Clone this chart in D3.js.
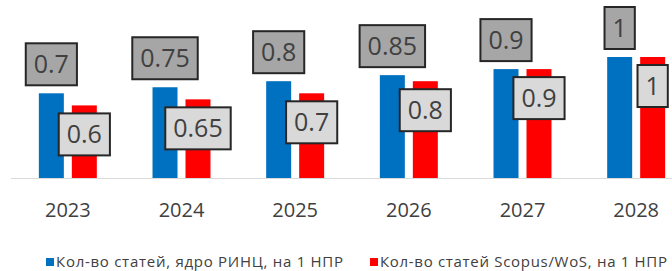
<!DOCTYPE html>
<html>
<head>
<meta charset="utf-8">
<script src="https://cdn.jsdelivr.net/npm/d3@7"></script>
<style>
  body { margin: 0; background: #fff; }
  svg { display: block; }
</style>
</head>
<body>
<svg width="672" height="271"></svg>
<script>
const years = ['2023', '2024', '2025', '2026', '2027', '2028'];
const series = ['rinc', 'scopus'];
const rincValues = [0.7, 0.75, 0.8, 0.85, 0.9, 1];
const scopusValues = [0.6, 0.65, 0.7, 0.8, 0.9, 1];
const legendLabels = ['Кол-во статей, ядро РИНЦ, на 1 НПР', 'Кол-во статей Scopus/WoS, на 1 НПР'];

const colors = { rinc: '#0070c0', scopus: '#ff0000' };
const boxFill = { rinc: '#a6a6a6', scopus: '#d9d9d9' };

const svg = d3.select('svg');
const baseY = 178;

const x = d3.scaleBand()
  .domain(years)
  .range([11, 693])
  .paddingInner(0.49)
  .paddingOuter(0.245);

const xs = d3.scaleBand()
  .domain(series)
  .range([0, x.bandwidth()])
  .paddingInner(0.2424);

const y = d3.scaleLinear()
  .domain([0, 1])
  .range([baseY, baseY - 121]);

let data = [];
for (let i = 0; i < years.length; i++) {
  data.push({ year: years[i], key: 'rinc', value: rincValues[i] });
  data.push({ year: years[i], key: 'scopus', value: scopusValues[i] });
}

// axis line
svg.append('line')
  .attr('x1', 11).attr('x2', 672)
  .attr('y1', baseY + 0.5).attr('y2', baseY + 0.5)
  .attr('stroke', '#d9d9d9')
  .attr('stroke-width', 1);

svg.selectAll('rect.bar')
  .data(data)
  .enter()
  .append('rect')
  .attr('class', 'bar')
  .attr('x', d => x(d.year) + xs(d.key))
  .attr('width', xs.bandwidth())
  .attr('y', d => y(d.value))
  .attr('height', d => baseY - y(d.value))
  .attr('fill', d => colors[d.key]);

// data labels in boxes
const fmt = v => String(v);
const labelFont = 25;
const boxH = 42;

const labels = svg.selectAll('g.lbl')
  .data(data)
  .enter()
  .append('g')
  .attr('class', 'lbl');

labels.each(function (d) {
  const g = d3.select(this);
  const cx = x(d.year) + xs(d.key) + xs.bandwidth() / 2;
  const top = d.key === 'rinc' ? y(d.value) - 8 - boxH : y(d.value) + 8;
  const t = g.append('text')
    .attr('x', cx)
    .attr('y', top + boxH / 2 + labelFont * 0.36)
    .attr('text-anchor', 'middle')
    .attr('font-family', 'Open Sans, sans-serif')
    .attr('font-size', labelFont)
    .attr('fill', '#404040')
    .text(fmt(d.value));
  const w = t.node().getComputedTextLength() + 16;
  g.insert('rect', 'text')
    .attr('x', cx - w / 2)
    .attr('y', top)
    .attr('width', w)
    .attr('height', boxH)
    .attr('fill', boxFill[d.key])
    .attr('stroke', '#262626')
    .attr('stroke-width', 2);
});

// year labels
svg.selectAll('text.year')
  .data(years)
  .enter()
  .append('text')
  .attr('class', 'year')
  .attr('x', d => x(d) + x.bandwidth() / 2)
  .attr('y', 217)
  .attr('text-anchor', 'middle')
  .attr('font-family', 'Open Sans, sans-serif')
  .attr('font-size', 20)
  .attr('fill', '#404040')
  .text(d => d);

// legend
const legendX = [46, 370];
const legend = svg.selectAll('g.legend')
  .data(series)
  .enter()
  .append('g')
  .attr('class', 'legend')
  .attr('transform', (d, i) => `translate(${legendX[i]},0)`);

legend.append('rect')
  .attr('x', 0).attr('y', 258)
  .attr('width', 8).attr('height', 8)
  .attr('fill', d => colors[d]);

legend.append('text')
  .attr('x', 10)
  .attr('y', 267)
  .attr('font-family', 'Open Sans, sans-serif')
  .attr('font-size', 15)
  .attr('fill', '#404040')
  .attr('textLength', 287)
  .attr('lengthAdjust', 'spacing')
  .text((d, i) => legendLabels[i]);
</script>
</body>
</html>
